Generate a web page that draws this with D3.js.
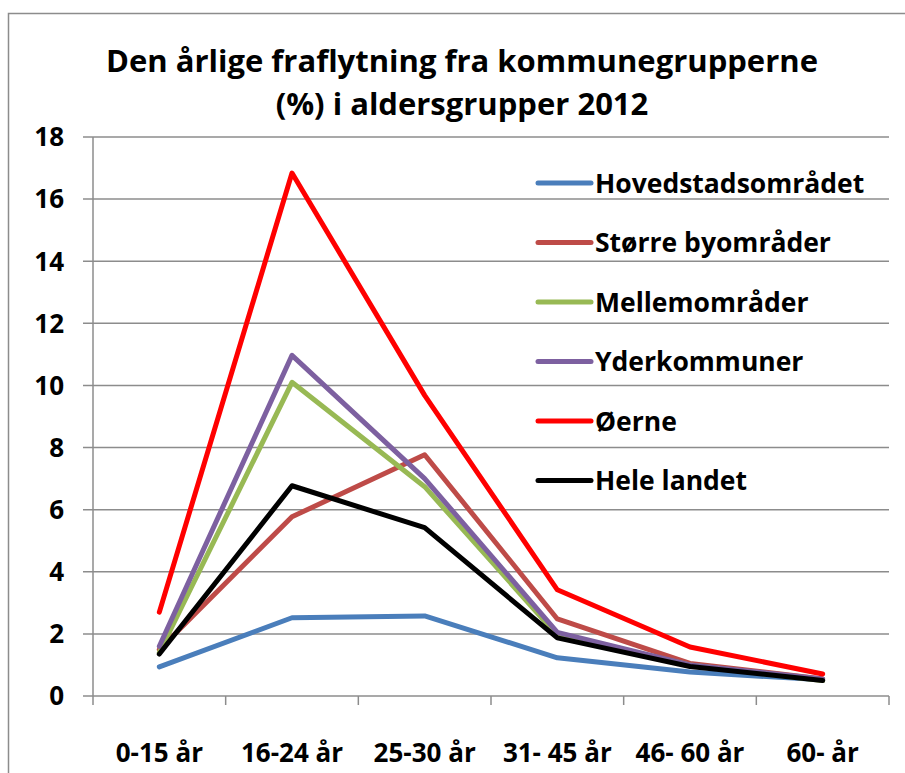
<!DOCTYPE html>
<html>
<head>
<meta charset="utf-8">
<title></title>
<script src="https://cdn.jsdelivr.net/npm/d3@7"></script>
<style>
  body { margin: 0; background: #fff; }
  svg { display: block; font-family: "Open Sans", Lato, sans-serif; font-weight: 700; }
</style>
</head>
<body>
<div id="chart"></div>
<script>
// data
var categories = ["0-15 år", "16-24 år", "25-30 år", "31- 45 år", "46- 60 år", "60- år"];
var seriesNames = ["Hovedstadsområdet", "Større byområder", "Mellemområder", "Yderkommuner", "Øerne", "Hele landet"];
var hovedstad = [0.94, 2.52, 2.58, 1.23, 0.77, 0.52];
var storreBy = [1.5, 5.77, 7.77, 2.48, 1.05, 0.55];
var mellem = [1.4, 10.1, 6.74, 1.95, 1.0, 0.5];
var yder = [1.6, 10.97, 7.0, 2.05, 1.0, 0.55];
var oerne = [2.7, 16.84, 9.68, 3.42, 1.58, 0.71];
var heleLandet = [1.35, 6.77, 5.42, 1.87, 0.95, 0.5];
var yTicks = [0, 2, 4, 6, 8, 10, 12, 14, 16, 18];
var colors = ["#4a7ebb", "#be4b48", "#98b954", "#7d60a0", "#ff0000", "#000000"];

var allSeries = [hovedstad, storreBy, mellem, yder, oerne, heleLandet];

var W = 905, H = 773;
var svg = d3.select("#chart").append("svg").attr("width", W).attr("height", H);

// outer chart border
svg.append("rect")
  .attr("x", 8.5).attr("y", 13.5)
  .attr("width", W).attr("height", H)
  .style("fill", "none").style("stroke", "#8c8c8c").style("stroke-width", 1.5);

// title
svg.append("text").attr("x", 462).attr("y", 72).attr("text-anchor", "middle")
  .style("font-size", "31px").text("Den årlige fraflytning fra kommunegrupperne");
svg.append("text").attr("x", 462).attr("y", 115).attr("text-anchor", "middle")
  .style("font-size", "31px").text("(%) i aldersgrupper 2012");

var plotLeft = 93, plotRight = 889, plotTop = 137, plotBottom = 696;

var x = d3.scaleBand().domain(categories).range([plotLeft, plotRight]);
var y = d3.scaleLinear().domain([0, 18]).range([plotBottom, plotTop]);

// gridlines
svg.append("g").selectAll("line").data(yTicks).enter().append("line")
  .attr("x1", plotLeft - 10).attr("x2", plotRight)
  .attr("y1", function(d){ return y(d); }).attr("y2", function(d){ return y(d); })
  .style("stroke", "#8c8c8c").style("stroke-width", 1.5);

// y axis line
svg.append("line").attr("x1", plotLeft).attr("x2", plotLeft).attr("y1", plotTop).attr("y2", plotBottom)
  .style("stroke", "#8c8c8c").style("stroke-width", 1.5);

// y tick labels
svg.append("g").selectAll("text").data(yTicks).enter().append("text")
  .attr("x", 64).attr("y", function(d){ return y(d); }).attr("dy", "0.36em")
  .attr("text-anchor", "end").style("font-size", "26px")
  .text(function(d){ return d; });

// x axis ticks between categories
var xBounds = categories.map(function(c){ return x(c); }).concat([plotRight]);
svg.append("g").selectAll("line").data(xBounds).enter().append("line")
  .attr("x1", function(d){ return d; }).attr("x2", function(d){ return d; })
  .attr("y1", plotBottom).attr("y2", plotBottom + 9)
  .style("stroke", "#8c8c8c").style("stroke-width", 1.5);

svg.append("g").selectAll("text").data(categories).enter().append("text")
  .attr("x", function(d){ return x(d) + x.bandwidth() / 2; })
  .attr("y", 762).attr("text-anchor", "middle").style("font-size", "26px")
  .text(function(d){ return d; });

// lines
var line = d3.line()
  .x(function(d, i){ return x(categories[i]) + x.bandwidth() / 2; })
  .y(function(d){ return y(d); });

svg.append("g").selectAll("path").data(allSeries).enter().append("path")
  .attr("d", line)
  .style("fill", "none")
  .style("stroke", function(d, i){ return colors[i]; })
  .style("stroke-width", 5)
  .style("stroke-linejoin", "round")
  .style("stroke-linecap", "round");

// legend
var legend = svg.append("g").selectAll("g").data(seriesNames).enter().append("g")
  .attr("transform", function(d, i){ return "translate(538," + (183 + i * 59.5) + ")"; });
legend.append("line").attr("x1", 0).attr("x2", 53)
  .style("stroke", function(d, i){ return colors[i]; })
  .style("stroke-width", 5).style("stroke-linecap", "round");
legend.append("text").attr("x", 57).attr("dy", "0.36em").style("font-size", "26.5px")
  .text(function(d){ return d; });
</script>
</body>
</html>
